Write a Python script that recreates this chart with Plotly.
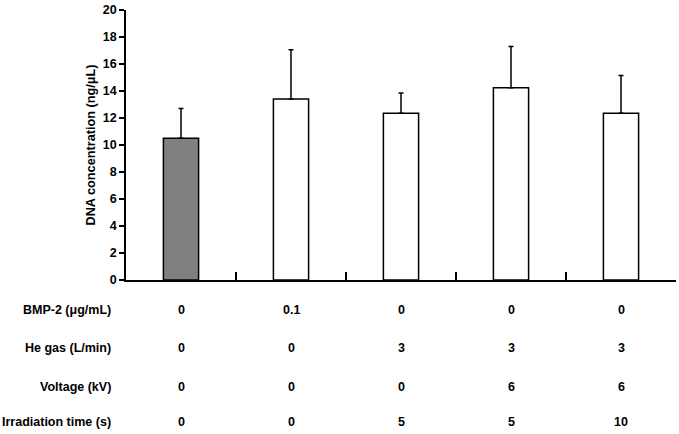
import plotly.graph_objects as go

groups = ["G1", "G2", "G3", "G4", "G5"]
dna = [10.5, 13.4, 12.35, 14.25, 12.35]
dna_sd = [2.2, 3.65, 1.5, 3.05, 2.8]
bar_colors = ["#808080", "white", "white", "white", "white"]

row_labels = ["BMP-2 (μg/mL)", "He gas (L/min)", "Voltage (kV)", "Irradiation time (s)"]
row_values = [
    ["0", "0.1", "0", "0", "0"],
    ["0", "0", "3", "3", "3"],
    ["0", "0", "0", "6", "6"],
    ["0", "0", "5", "5", "10"],
]
row_y = [-0.11, -0.253, -0.396, -0.525]

FAM = "Liberation Sans, Arial, sans-serif"
font = dict(family=FAM, size=12.5, color="black")

fig = go.Figure()
fig.add_trace(go.Bar(
    x=groups, y=dna, width=0.32,
    marker=dict(color=bar_colors, line=dict(color="black", width=1.5)),
    error_y=dict(type="data", array=dna_sd, arrayminus=[0] * 5, symmetric=False,
                 color="black", thickness=1.5, width=2.5),
))

# table under the chart
for label, vals, yy in zip(row_labels, row_values, row_y):
    fig.add_annotation(text="<b>%s</b>" % label, xref="paper", yref="paper",
                       x=-0.0236, y=yy, xanchor="right", yanchor="middle",
                       showarrow=False, font=font)
    for g, v in zip(groups, vals):
        fig.add_annotation(text="<b>%s</b>" % v, xref="x", yref="paper",
                           x=g, y=yy, xanchor="center", yanchor="middle",
                           showarrow=False, font=font)

fig.update_layout(
    width=679, height=434,
    margin=dict(l=126, r=3, t=7, b=154),
    paper_bgcolor="white", plot_bgcolor="white",
    showlegend=False,
    font=font,
    yaxis=dict(range=[0, 20], dtick=2, showgrid=False, zeroline=False,
               showline=True, linecolor="black", linewidth=1.5,
               ticks="outside", ticklen=5, tickwidth=1.5, tickcolor="black",
               tickfont=dict(family=FAM, size=12.5, color="black", weight="bold"),
               title=dict(text="<b>DNA concentration (ng/μL)</b>", standoff=4,
                          font=dict(family=FAM, size=12.7, color="black"))),
    xaxis=dict(showgrid=False, zeroline=False, showline=True, linecolor="black", linewidth=1.5,
               showticklabels=False, ticks="inside", tickson="boundaries",
               ticklen=8, tickwidth=1.5, tickcolor="black", range=[-0.5, 4.5]),
)

# drop the default page margin so the figure sits at the window's corner
fig.write_html("out.html", config={"displayModeBar": False},
               post_script="document.body.style.margin='0';")
